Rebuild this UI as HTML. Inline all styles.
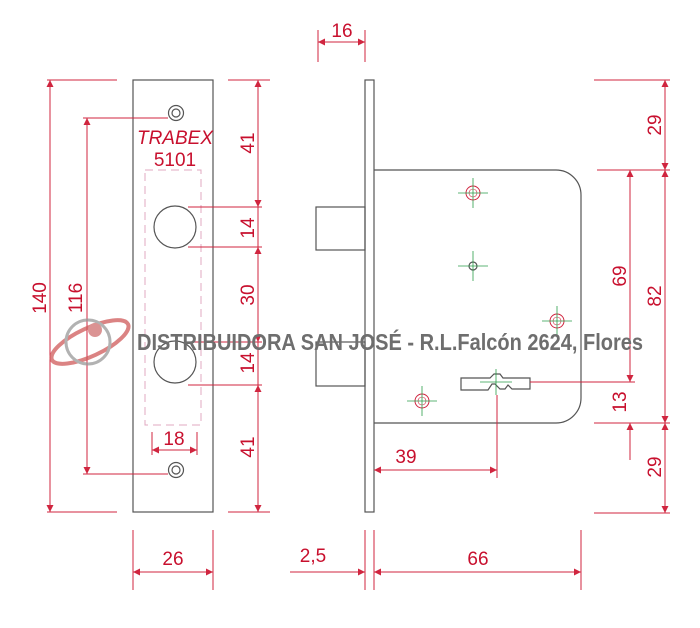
<!DOCTYPE html>
<html><head><meta charset="utf-8"><style>
html,body{margin:0;padding:0;background:#fff;width:700px;height:628px;overflow:hidden}
svg{display:block}
.d{stroke:#d0253f;stroke-width:1;fill:none}
.g{stroke:#555;stroke-width:1.2;fill:none}
.t{font-family:"Liberation Sans",sans-serif;font-size:19px;fill:#c8102e}
.c{stroke:#2a9d4a;stroke-width:0.8}
</style></head><body>
<svg width="700" height="628" viewBox="0 0 700 628" xmlns="http://www.w3.org/2000/svg">
<defs>
<marker id="a" viewBox="0 0 10 10" refX="10" refY="5" markerWidth="12" markerHeight="7" orient="auto-start-reverse" markerUnits="userSpaceOnUse"><path d="M0,0 L10,5 L0,10z" fill="#d0253f"/></marker>
</defs>
<!-- faceplate -->
<rect x="133" y="80" width="80" height="432" class="g"/>
<circle cx="176" cy="113" r="7.5" class="g"/><circle cx="176" cy="113" r="4" class="g"/>
<circle cx="176" cy="470" r="7.5" class="g"/><circle cx="176" cy="470" r="4" class="g"/>
<rect x="145" y="170" width="56" height="255" fill="none" stroke="#e0a8c0" stroke-dasharray="8,5"/>
<circle cx="175" cy="227" r="21" class="g"/>
<circle cx="175" cy="362" r="21" class="g"/>
<text x="175" y="144" class="t" text-anchor="middle" font-style="italic" font-size="16">TRABEX</text>
<text x="175" y="166" class="t" text-anchor="middle" font-size="17">5101</text>
<!-- left dims -->
<line x1="47" y1="80" x2="117" y2="80" class="d"/><line x1="47" y1="512" x2="117" y2="512" class="d"/>
<line x1="50" y1="80" x2="50" y2="512" class="d" marker-start="url(#a)" marker-end="url(#a)"/>
<text class="t" transform="translate(46,298) rotate(-90)" text-anchor="middle">140</text>
<line x1="83" y1="118" x2="168" y2="118" class="d"/><line x1="83" y1="474" x2="168" y2="474" class="d"/>
<line x1="87" y1="118" x2="87" y2="474" class="d" marker-start="url(#a)" marker-end="url(#a)"/>
<text class="t" transform="translate(82,298) rotate(-90)" text-anchor="middle">116</text>
<!-- right of plate dims -->
<line x1="228" y1="80" x2="270" y2="80" class="d"/><line x1="228" y1="512" x2="270" y2="512" class="d"/>
<line x1="188" y1="207" x2="262" y2="207" class="d"/><line x1="188" y1="247" x2="262" y2="247" class="d"/>
<line x1="188" y1="342" x2="262" y2="342" class="d"/><line x1="188" y1="385" x2="262" y2="385" class="d"/>
<line x1="258" y1="80" x2="258" y2="207" class="d" marker-start="url(#a)" marker-end="url(#a)"/>
<line x1="258" y1="207" x2="258" y2="247" class="d"/>
<line x1="258" y1="247" x2="258" y2="342" class="d" marker-start="url(#a)" marker-end="url(#a)"/>
<line x1="258" y1="342" x2="258" y2="385" class="d"/>
<line x1="258" y1="385" x2="258" y2="512" class="d" marker-start="url(#a)" marker-end="url(#a)"/>
<text class="t" transform="translate(254,143) rotate(-90)" text-anchor="middle">41</text>
<text class="t" transform="translate(254,228) rotate(-90)" text-anchor="middle">14</text>
<text class="t" transform="translate(254,295) rotate(-90)" text-anchor="middle">30</text>
<text class="t" transform="translate(254,363) rotate(-90)" text-anchor="middle">14</text>
<text class="t" transform="translate(254,447) rotate(-90)" text-anchor="middle">41</text>
<!-- 18 -->
<line x1="152" y1="432" x2="152" y2="455" class="d"/><line x1="197" y1="432" x2="197" y2="455" class="d"/>
<line x1="152" y1="450" x2="197" y2="450" class="d" marker-start="url(#a)" marker-end="url(#a)"/>
<text x="174" y="445" class="t" text-anchor="middle" font-size="17">18</text>
<!-- 26 -->
<line x1="133" y1="530" x2="133" y2="590" class="d"/><line x1="213" y1="530" x2="213" y2="590" class="d"/>
<line x1="133" y1="572" x2="213" y2="572" class="d" marker-start="url(#a)" marker-end="url(#a)"/>
<text x="173" y="565" class="t" text-anchor="middle">26</text>
<!-- side view -->
<rect x="365" y="80" width="9" height="432" class="g"/>
<path d="M374,170 H556 A25,25 0 0 1 581,195 V398 A25,25 0 0 1 556,423 H374" class="g"/>
<rect x="316" y="207" width="49" height="43" class="g"/>
<rect x="316" y="342" width="49" height="44" class="g"/>
<!-- screws -->
<g>
<circle cx="473" cy="193" r="7" fill="none" stroke="#d0253f"/><circle cx="473" cy="193" r="4" fill="none" stroke="#d0253f" stroke-width=".6"/>
<line x1="458" y1="193" x2="488" y2="193" class="c"/><line x1="473" y1="178" x2="473" y2="208" class="c"/>
<circle cx="473" cy="266" r="4" class="g"/>
<line x1="458" y1="266" x2="488" y2="266" class="c"/><line x1="473" y1="251" x2="473" y2="281" class="c"/>
<circle cx="557" cy="321" r="7" fill="none" stroke="#d0253f"/><circle cx="557" cy="321" r="4" fill="none" stroke="#d0253f" stroke-width=".6"/>
<line x1="542" y1="321" x2="572" y2="321" class="c"/><line x1="557" y1="306" x2="557" y2="336" class="c"/>
<circle cx="422" cy="401" r="7" fill="none" stroke="#d0253f"/><circle cx="422" cy="401" r="4" fill="none" stroke="#d0253f" stroke-width=".6"/>
<line x1="407" y1="401" x2="437" y2="401" class="c"/><line x1="422" y1="386" x2="422" y2="416" class="c"/>
</g>
<path d="M461,378 H490 L494,374 H500 L503,378 H530 V389 H512 L508,385 L505,389 H500 L495,384 H492 L488,390 H461 Z" class="g" stroke-width="1"/>
<line x1="480" y1="382" x2="512" y2="382" class="c"/><line x1="496" y1="369" x2="496" y2="395" class="c"/>
<!-- 16 -->
<line x1="318" y1="30" x2="318" y2="62" class="d"/><line x1="365" y1="30" x2="365" y2="62" class="d"/>
<line x1="318" y1="42" x2="365" y2="42" class="d" marker-start="url(#a)" marker-end="url(#a)"/>
<text x="342" y="37" class="t" text-anchor="middle" font-size="17">16</text>
<!-- 39 -->
<line x1="497" y1="395" x2="497" y2="478" class="d"/>
<line x1="374" y1="470" x2="497" y2="470" class="d" marker-start="url(#a)" marker-end="url(#a)"/>
<text x="406" y="463" class="t" text-anchor="middle">39</text>
<!-- bottom -->
<line x1="365" y1="530" x2="365" y2="590" class="d"/><line x1="374" y1="530" x2="374" y2="590" class="d"/><line x1="581" y1="530" x2="581" y2="590" class="d"/>
<line x1="290" y1="572" x2="365" y2="572" class="d" marker-end="url(#a)"/>
<text x="313" y="562" class="t" text-anchor="middle">2,5</text>
<line x1="374" y1="572" x2="581" y2="572" class="d" marker-start="url(#a)" marker-end="url(#a)"/>
<text x="478" y="565" class="t" text-anchor="middle">66</text>
<!-- right dims -->
<line x1="594" y1="80" x2="670" y2="80" class="d"/><line x1="597" y1="170" x2="670" y2="170" class="d"/>
<line x1="594" y1="423" x2="670" y2="423" class="d"/><line x1="594" y1="513" x2="670" y2="513" class="d"/>
<line x1="530" y1="382" x2="635" y2="382" class="d"/>
<line x1="665" y1="80" x2="665" y2="170" class="d" marker-start="url(#a)" marker-end="url(#a)"/>
<line x1="665" y1="170" x2="665" y2="423" class="d" marker-start="url(#a)" marker-end="url(#a)"/>
<line x1="665" y1="423" x2="665" y2="513" class="d" marker-start="url(#a)" marker-end="url(#a)"/>
<line x1="630" y1="170" x2="630" y2="382" class="d" marker-start="url(#a)" marker-end="url(#a)"/>
<line x1="630" y1="423" x2="630" y2="460" class="d" marker-start="url(#a)"/>
<text class="t" transform="translate(626,276) rotate(-90)" text-anchor="middle">69</text>
<text class="t" transform="translate(661,296) rotate(-90)" text-anchor="middle">82</text>
<text class="t" transform="translate(661,125) rotate(-90)" text-anchor="middle">29</text>
<text class="t" transform="translate(626,402) rotate(-90)" text-anchor="middle">13</text>
<text class="t" transform="translate(661,467) rotate(-90)" text-anchor="middle">29</text>
<!-- watermark -->
<g opacity="0.75">
<ellipse cx="90" cy="342" rx="42" ry="14" transform="rotate(-25 90 342)" fill="none" stroke="#d05a5a" stroke-width="4"/>
<circle cx="88" cy="342" r="22" fill="none" stroke="#999" stroke-width="3"/>
<circle cx="95" cy="330" r="7" fill="#d07070"/>
</g>
<text x="137" y="350" font-family="Liberation Sans, sans-serif" font-weight="bold" font-size="23" fill="#6e6e6e" textLength="506" lengthAdjust="spacingAndGlyphs">DISTRIBUIDORA SAN JOSÉ - R.L.Falcón 2624, Flores</text>
</svg>
</body></html>
